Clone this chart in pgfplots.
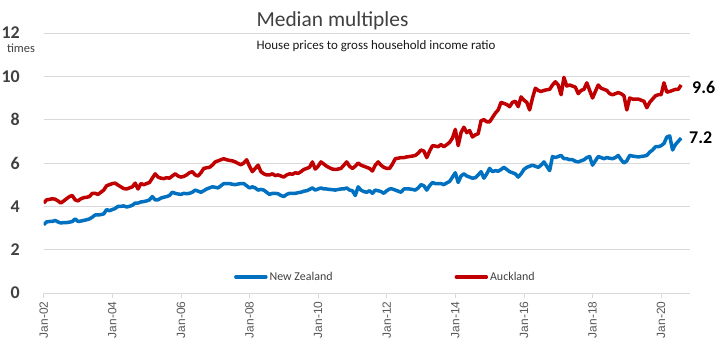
\documentclass[border=0pt]{standalone}
\usepackage{pgfplots}
\pgfplotsset{compat=1.18}
\usepackage{pgfplotstable}
\usepackage{fontspec}
\setmainfont{Carlito}
\newfontfamily\arialfont{Liberation Sans}
\definecolor{nzblue}{HTML}{0070C0}
\definecolor{aklred}{HTML}{C00000}
\definecolor{gridgrey}{HTML}{D9D9D9}
\definecolor{txtgrey}{HTML}{404040}
\definecolor{ticktxt}{HTML}{595959}

% New Zealand, monthly Jan-02 .. Aug-20
\pgfplotstableread[header=false,row sep=\\]{
3.15\\ 3.28\\ 3.3\\ 3.3\\ 3.35\\ 3.28\\ 3.23\\ 3.25\\ 3.25\\ 3.27\\ 3.3\\ 3.42\\
3.3\\ 3.32\\ 3.35\\ 3.38\\ 3.42\\ 3.5\\ 3.6\\ 3.6\\ 3.62\\ 3.65\\ 3.85\\ 3.8\\
3.85\\ 3.9\\ 4.0\\ 4.0\\ 4.02\\ 3.97\\ 4.0\\ 4.05\\ 4.15\\ 4.15\\ 4.2\\ 4.22\\
4.25\\ 4.3\\ 4.45\\ 4.3\\ 4.3\\ 4.38\\ 4.42\\ 4.45\\ 4.5\\ 4.65\\ 4.6\\ 4.57\\
4.55\\ 4.6\\ 4.58\\ 4.6\\ 4.65\\ 4.75\\ 4.7\\ 4.65\\ 4.72\\ 4.8\\ 4.85\\ 4.9\\
4.88\\ 4.85\\ 4.95\\ 5.05\\ 5.05\\ 5.05\\ 5.02\\ 5.0\\ 5.03\\ 5.05\\ 5.05\\ 4.95\\
4.85\\ 4.9\\ 4.85\\ 4.75\\ 4.78\\ 4.75\\ 4.65\\ 4.55\\ 4.6\\ 4.6\\ 4.58\\ 4.5\\
4.45\\ 4.55\\ 4.6\\ 4.6\\ 4.6\\ 4.63\\ 4.65\\ 4.7\\ 4.72\\ 4.78\\ 4.85\\ 4.75\\
4.8\\ 4.85\\ 4.8\\ 4.8\\ 4.78\\ 4.77\\ 4.75\\ 4.78\\ 4.8\\ 4.8\\ 4.85\\ 4.75\\
4.72\\ 4.5\\ 4.9\\ 4.75\\ 4.68\\ 4.65\\ 4.72\\ 4.6\\ 4.75\\ 4.72\\ 4.68\\ 4.6\\
4.72\\ 4.8\\ 4.8\\ 4.75\\ 4.7\\ 4.65\\ 4.8\\ 4.8\\ 4.8\\ 4.78\\ 4.75\\ 4.85\\
5.0\\ 4.95\\ 4.75\\ 4.95\\ 5.1\\ 5.05\\ 5.05\\ 5.05\\ 5.0\\ 5.08\\ 5.15\\ 5.35\\
5.55\\ 5.1\\ 5.4\\ 5.5\\ 5.4\\ 5.35\\ 5.3\\ 5.32\\ 5.45\\ 5.6\\ 5.3\\ 5.5\\
5.75\\ 5.6\\ 5.65\\ 5.62\\ 5.7\\ 5.8\\ 5.7\\ 5.6\\ 5.55\\ 5.5\\ 5.35\\ 5.5\\
5.7\\ 5.8\\ 5.85\\ 5.9\\ 5.85\\ 5.8\\ 5.9\\ 6.05\\ 5.85\\ 5.65\\ 6.3\\ 6.25\\
6.3\\ 6.35\\ 6.2\\ 6.2\\ 6.15\\ 6.15\\ 6.08\\ 6.05\\ 6.1\\ 6.15\\ 6.25\\ 6.3\\
5.9\\ 6.1\\ 6.3\\ 6.25\\ 6.2\\ 6.25\\ 6.22\\ 6.2\\ 6.25\\ 6.35\\ 6.15\\ 6.0\\
6.1\\ 6.35\\ 6.32\\ 6.3\\ 6.28\\ 6.3\\ 6.32\\ 6.35\\ 6.5\\ 6.6\\ 6.75\\ 6.75\\
6.8\\ 6.9\\ 7.2\\ 7.25\\ 6.6\\ 6.85\\ 7.0\\ 7.15\\
}\nzdata

% Auckland, monthly Jan-02 .. Aug-20
\pgfplotstableread[header=false,row sep=\\]{
4.15\\ 4.3\\ 4.32\\ 4.35\\ 4.33\\ 4.25\\ 4.15\\ 4.25\\ 4.35\\ 4.45\\ 4.5\\ 4.3\\
4.25\\ 4.35\\ 4.4\\ 4.42\\ 4.45\\ 4.6\\ 4.6\\ 4.55\\ 4.65\\ 4.75\\ 4.95\\ 5.0\\
5.05\\ 5.07\\ 4.98\\ 4.9\\ 4.82\\ 4.8\\ 4.85\\ 4.9\\ 5.07\\ 4.8\\ 5.05\\ 5.0\\
5.05\\ 5.1\\ 5.3\\ 5.5\\ 5.35\\ 5.3\\ 5.28\\ 5.32\\ 5.3\\ 5.4\\ 5.5\\ 5.4\\
5.35\\ 5.38\\ 5.45\\ 5.55\\ 5.6\\ 5.45\\ 5.4\\ 5.55\\ 5.75\\ 5.78\\ 5.8\\ 5.9\\
6.05\\ 6.1\\ 6.15\\ 6.2\\ 6.15\\ 6.12\\ 6.1\\ 6.05\\ 5.98\\ 5.92\\ 6.0\\ 6.15\\
5.85\\ 5.6\\ 5.75\\ 5.9\\ 5.6\\ 5.5\\ 5.45\\ 5.45\\ 5.5\\ 5.42\\ 5.45\\ 5.4\\
5.35\\ 5.45\\ 5.5\\ 5.48\\ 5.55\\ 5.52\\ 5.6\\ 5.7\\ 5.75\\ 5.8\\ 6.05\\ 5.72\\
5.85\\ 6.05\\ 5.95\\ 5.85\\ 5.78\\ 5.72\\ 5.7\\ 5.72\\ 5.75\\ 5.9\\ 6.05\\ 5.85\\
5.75\\ 5.85\\ 6.0\\ 5.9\\ 5.85\\ 5.8\\ 5.75\\ 5.63\\ 5.9\\ 6.05\\ 5.9\\ 5.8\\
5.75\\ 5.75\\ 5.95\\ 6.2\\ 6.22\\ 6.25\\ 6.25\\ 6.28\\ 6.3\\ 6.32\\ 6.35\\ 6.45\\
6.6\\ 6.55\\ 6.25\\ 6.55\\ 6.8\\ 6.78\\ 6.75\\ 6.85\\ 6.75\\ 6.85\\ 6.95\\ 7.15\\
7.55\\ 6.8\\ 7.4\\ 7.65\\ 7.4\\ 7.5\\ 7.2\\ 7.3\\ 7.35\\ 7.95\\ 8.0\\ 7.9\\
7.9\\ 8.1\\ 8.3\\ 8.45\\ 8.8\\ 8.75\\ 8.7\\ 8.6\\ 8.8\\ 8.85\\ 8.6\\ 9.05\\
8.9\\ 8.8\\ 8.45\\ 9.0\\ 9.45\\ 9.35\\ 9.3\\ 9.35\\ 9.38\\ 9.4\\ 9.6\\ 9.75\\
9.6\\ 9.15\\ 9.95\\ 9.55\\ 9.6\\ 9.55\\ 9.5\\ 9.2\\ 9.35\\ 9.4\\ 9.7\\ 9.35\\
9.0\\ 9.3\\ 9.6\\ 9.45\\ 9.4\\ 9.35\\ 9.2\\ 9.15\\ 9.2\\ 9.25\\ 9.2\\ 9.1\\
8.45\\ 9.0\\ 8.95\\ 8.95\\ 8.95\\ 8.9\\ 8.85\\ 8.55\\ 8.8\\ 8.95\\ 9.1\\ 9.15\\
9.15\\ 9.7\\ 9.27\\ 9.3\\ 9.35\\ 9.4\\ 9.4\\ 9.6\\
}\akldata

\begin{document}
\begin{tikzpicture}
\useasboundingbox (-43.7bp,-66bp) rectangle (683.3bp,293bp);
\begin{axis}[
  scale only axis,
  width=646bp, height=260bp,
  xmin=0, xmax=226,
  ymin=0, ymax=12,
  axis line style={draw=none},
  ymajorgrids,
  grid style={gridgrey, line width=0.8bp},
  ytick={0,2,...,12},
  xtick={0,24,...,216},
  xticklabels={Jan-02,Jan-04,Jan-06,Jan-08,Jan-10,Jan-12,Jan-14,Jan-16,Jan-18,Jan-20},
  xtick pos=lower,
  tick align=outside,
  major tick length=5bp,
  xtick style={gridgrey, line width=0.8bp},
  ytick style={draw=none},
  /pgf/number format/assume math mode=true,
  yticklabel style={anchor=east, inner sep=0pt, xshift=-18.7bp,
    font=\bfseries\fontsize{18}{18}\selectfont, text=txtgrey},
  xticklabel style={rotate=90, anchor=east,
    font=\arialfont\fontsize{12}{12}\selectfont, text=ticktxt},
  legend style={at={(0.529,0.0615)}, anchor=center, draw=none, fill=none,
    legend columns=2, font=\fontsize{12}{12}\selectfont, text=txtgrey,
    /tikz/every even column/.append style={column sep=120bp}},
  legend image code/.code={\draw[line width=3.5bp, line cap=round] (0bp,0bp) -- (30bp,0bp);},
]
\addplot[nzblue, line width=3.5bp, line join=round] table[x expr=\coordindex, y index=0] {\nzdata};
\addlegendentry{New Zealand}
\addplot[aklred, line width=3.5bp, line join=round] table[x expr=\coordindex, y index=0] {\akldata};
\addlegendentry{Auckland}
\end{axis}
\node[anchor=base west, font=\fontsize{21.5}{21.5}\selectfont, text=txtgrey] at (209.3bp,266bp) {Median multiples};
\node[anchor=base west, font=\fontsize{13}{13}\selectfont, text=black!90] at (209.3bp,243bp) {House prices to gross household income ratio};
\node[font=\fontsize{12.5}{12.5}\selectfont, text=txtgrey] at (-22.7bp,245bp) {times};
\node[anchor=west, inner sep=0pt, font=\bfseries\fontsize{18}{18}\selectfont] at (648.3bp,205.5bp) {9.6};
\node[anchor=west, inner sep=0pt, font=\bfseries\fontsize{18}{18}\selectfont] at (645.3bp,155.5bp) {7.2};
\end{tikzpicture}
\end{document}
